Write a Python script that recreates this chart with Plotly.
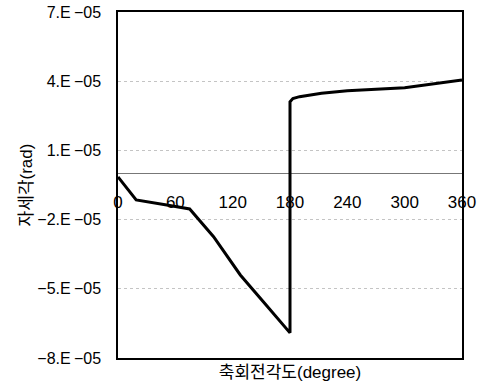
import plotly.graph_objects as go

angle_deg = [0, 19, 51, 75, 100, 128, 155, 180, 180, 183, 190, 213, 240, 300, 360]
attitude_rad = [-0.15e-5, -1.15e-5, -1.37e-5, -1.54e-5, -2.74e-5, -4.40e-5, -5.70e-5, -6.91e-5,
                3.11e-5, 3.25e-5, 3.33e-5, 3.48e-5, 3.59e-5, 3.72e-5, 4.05e-5]

y_tickvals = [7e-5, 4e-5, 1e-5, -2e-5, -5e-5, -8e-5]
y_ticktext = ["7.E\u2009\u221205", "4.E\u2009\u221205", "1.E\u2009\u221205",
              "\u22122.E\u2009\u221205", "\u22125.E\u2009\u221205", "\u22128.E\u2009\u221205"]
x_tickvals = [0, 60, 120, 180, 240, 300, 360]
x_ticktext = ["0", "60", "120", "180", "240", "300", "360"]

FONT = "Liberation Sans, Arial, Noto Sans CJK KR, sans-serif"

fig = go.Figure()
fig.add_trace(go.Scatter(x=angle_deg, y=attitude_rad, mode="lines",
                         line=dict(color="black", width=3), showlegend=False))
# invisible trace to activate the tick-label axis
fig.add_trace(go.Scatter(x=[0, 360], y=[0, 0], xaxis="x2", mode="lines",
                         line=dict(width=0), showlegend=False, hoverinfo="skip"))

ymin, ymax = -8e-5, 7e-5
zero_pos = (0 - ymin) / (ymax - ymin)

fig.update_layout(
    width=481, height=385,
    margin=dict(l=118, r=19, t=12, b=27, autoexpand=False),
    paper_bgcolor="white", plot_bgcolor="white",
    font=dict(family=FONT, size=16, color="black"),
    xaxis=dict(range=[0, 360], showticklabels=False, ticks="",
               showgrid=False, zeroline=False, automargin=False,
               showline=True, mirror=True, linecolor="black", linewidth=1.5,
               title=dict(text="축회전각도(degree)", font=dict(size=17), standoff=7)),
    xaxis2=dict(range=[0, 360], overlaying="x", anchor="free", position=zero_pos,
                side="bottom", tickvals=x_tickvals, ticktext=x_ticktext,
                ticks="", showgrid=False, zeroline=False, showline=False,
                automargin=False, ticklabelstandoff=17,
                tickfont=dict(size=17)),
    yaxis=dict(range=[ymin, ymax], tickvals=y_tickvals, ticktext=y_ticktext,
               ticks="", showgrid=True, gridcolor="#c4c4c4", griddash="dot", gridwidth=1,
               zeroline=True, zerolinecolor="#777777", zerolinewidth=1,
               showline=True, mirror=True, linecolor="black", linewidth=1.5,
               automargin=False, ticklabelstandoff=12,
               tickfont=dict(size=16),
               title=dict(text="자세각(rad)", font=dict(size=17), standoff=0)),
)

fig.write_html("out.html")
